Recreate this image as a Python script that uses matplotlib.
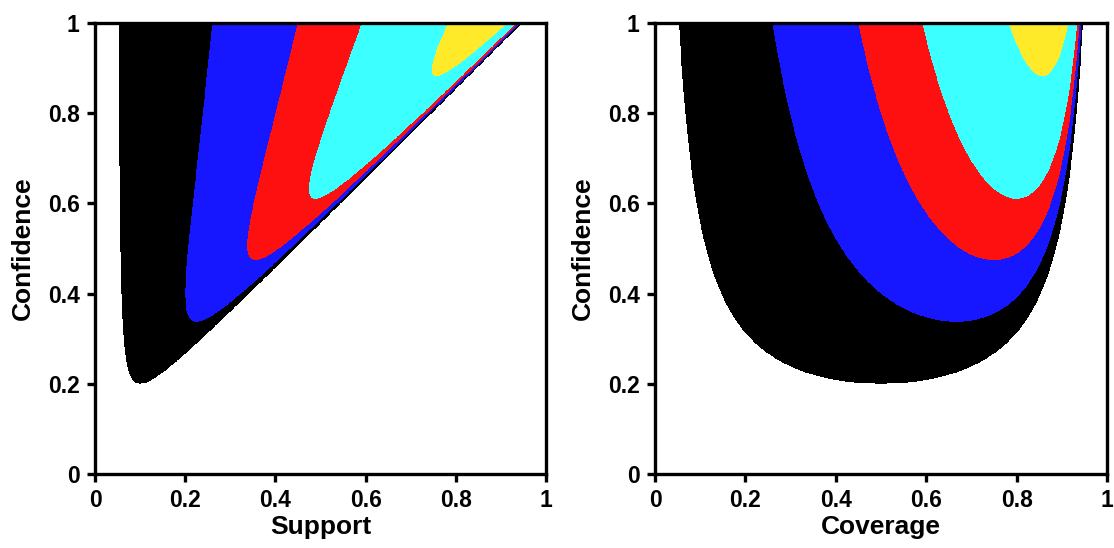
import numpy as np
import matplotlib
matplotlib.use("Agg")
import matplotlib.pyplot as plt
from matplotlib.colors import ListedColormap, BoundaryNorm

plt.rcParams['font.family'] = ['Liberation Sans', 'DejaVu Sans']
plt.rcParams['font.weight'] = 'bold'

# Threshold on f * c^k * (1 - c); each exponent gives one nested region
threshold = 0.05
exponents = [1, 2, 3, 4, 6]
region_colors = ['#000000', '#1616ff', '#ff1010', '#3cffff', '#ffea2a']

tick_values = [0, 0.2, 0.4, 0.6, 0.8, 1]
tick_labels = ['0', '0.2', '0.4', '0.6', '0.8', '1']

n = 1400
grid = np.linspace(0, 1, n)
X, Y = np.meshgrid(grid, grid)


def level_map(coverage, confidence, valid):
    lev = np.zeros_like(coverage)
    for k in exponents:
        m = confidence * coverage ** k * (1 - coverage)
        lev += (m >= threshold) & valid
    return lev


# Coverage panel: direct
lev_cov = level_map(X, Y, np.ones_like(X, dtype=bool))

# Support panel: coverage = support / confidence (only where <= 1)
with np.errstate(divide='ignore', invalid='ignore'):
    C = np.where(Y > 0, X / Y, 2.0)
valid = C <= 1
C = np.clip(C, 0, 1)
lev_sup = level_map(C, Y, valid)

cmap = ListedColormap(['#ffffff'] + region_colors)
norm = BoundaryNorm(np.arange(-0.5, len(exponents) + 1.5, 1), cmap.N)

fig = plt.figure(figsize=(11.14, 5.48), dpi=100)
ax1 = fig.add_axes([95 / 1114, 1 - 474 / 548, 451 / 1114, 451 / 548])
ax2 = fig.add_axes([655 / 1114, 1 - 474 / 548, 452 / 1114, 451 / 548])

for ax, lev, xlabel in [(ax1, lev_sup, 'Support'), (ax2, lev_cov, 'Coverage')]:
    ax.imshow(lev, origin='lower', extent=[0, 1, 0, 1], cmap=cmap, norm=norm,
              interpolation='nearest', aspect='auto')
    ax.set_xlim(0, 1)
    ax.set_ylim(0, 1)
    ax.set_xticks(tick_values)
    ax.set_xticklabels(tick_labels)
    ax.set_yticks(tick_values)
    ax.set_yticklabels(tick_labels)
    for sp in ax.spines.values():
        sp.set_linewidth(2.4)
    ax.tick_params(direction='out', length=6, width=2.4, labelsize=16.5, pad=5)
    for lab in ax.get_xticklabels() + ax.get_yticklabels():
        lab.set_fontweight('bold')
    ax.set_xlabel(xlabel, fontsize=19, fontweight='bold', labelpad=2)
    ax.set_ylabel('Confidence', fontsize=19, fontweight='bold', labelpad=9)

fig.savefig('out.png', dpi=100)
